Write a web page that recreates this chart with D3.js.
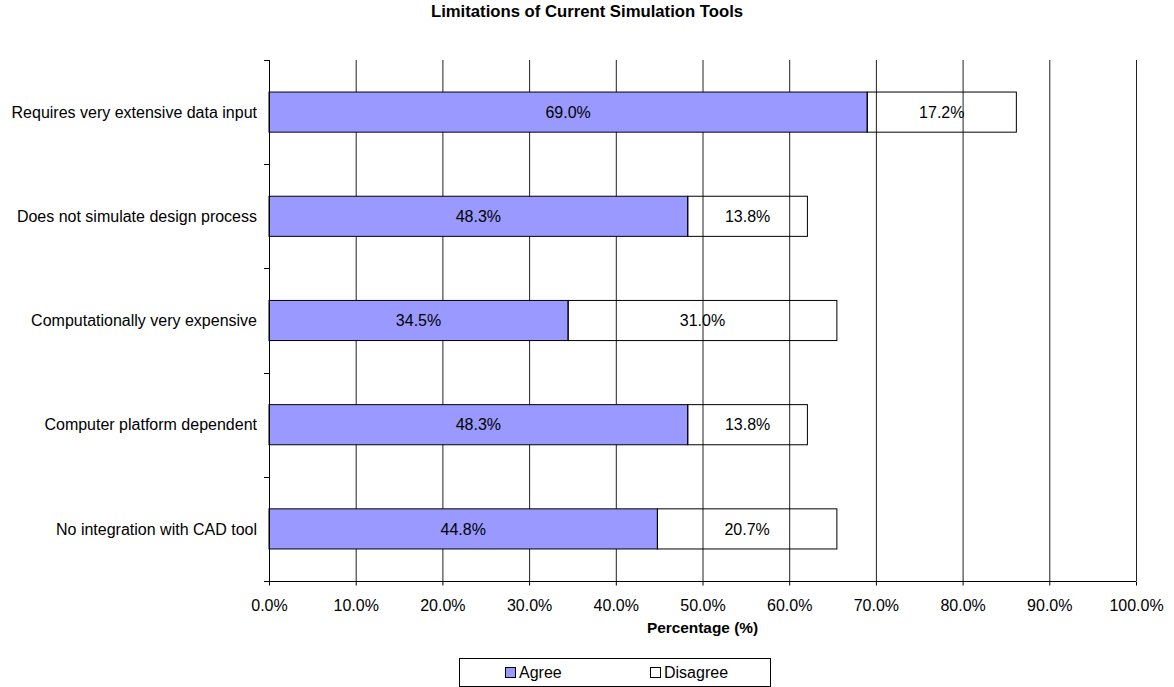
<!DOCTYPE html>
<html><head><meta charset="utf-8">
<script src="https://cdn.jsdelivr.net/npm/d3@7"></script>
<style>body{margin:0;background:#fff;}svg{display:block;font-family:"Liberation Sans",Arial,sans-serif;}</style>
</head><body>
<svg id="c" width="1174" height="687"></svg>
<script>
const categories = ["Requires very extensive data input","Does not simulate design process","Computationally very expensive","Computer platform dependent","No integration with CAD tool"];
const agree = [69.0, 48.3, 34.5, 48.3, 44.8];
const disagree = [17.2, 13.8, 31.0, 13.8, 20.7];
const seriesNames = ["Agree","Disagree"];
const xTicks = [0,10,20,30,40,50,60,70,80,90,100];

const FS = 16;
const svg = d3.select("#c");
const L = 269, R = 1136, T = 60, B = 581;
const x = d3.scaleLinear().domain([0,100]).range([L,R]);
const y = d3.scaleBand().domain(categories).range([T,B]).paddingInner(0.615).paddingOuter(0.3075);

// gridlines
svg.append("g").selectAll("line").data(xTicks.slice(1)).join("line")
  .attr("x1", d=>x(d)+0.5).attr("x2", d=>x(d)+0.5).attr("y1", T).attr("y2", B)
  .attr("stroke", "#222").attr("stroke-width", 1);

// bars
const rows = categories.map((c,i)=>({c, a:agree[i], d:disagree[i]}));
const g = svg.append("g");
g.selectAll("rect.a").data(rows).join("rect").attr("class","a")
  .attr("x", d=>x(0)).attr("y", d=>y(d.c)).attr("width", d=>x(d.a)-x(0)).attr("height", y.bandwidth())
  .attr("fill","#9999FF").attr("stroke","#000").attr("stroke-width",1);
g.selectAll("rect.d").data(rows).join("rect").attr("class","d")
  .attr("x", d=>x(d.a)).attr("y", d=>y(d.c)).attr("width", d=>x(d.a+d.d)-x(d.a)).attr("height", y.bandwidth())
  .attr("fill","none").attr("stroke","#000").attr("stroke-width",1);
g.selectAll("text.la").data(rows).join("text").attr("class","la")
  .attr("x", d=>(x(0)+x(d.a))/2).attr("y", d=>y(d.c)+y.bandwidth()/2).attr("dy","0.36em")
  .attr("text-anchor","middle").attr("font-size",FS).text(d=>d.a.toFixed(1)+"%");
g.selectAll("text.ld").data(rows).join("text").attr("class","ld")
  .attr("x", d=>(x(d.a)+x(d.a+d.d))/2).attr("y", d=>y(d.c)+y.bandwidth()/2).attr("dy","0.36em")
  .attr("text-anchor","middle").attr("font-size",FS).text(d=>d.d.toFixed(1)+"%");

// y axis
const yStep = y.step();
const yAx = svg.append("g");
yAx.append("line").attr("x1",L+0.5).attr("x2",L+0.5).attr("y1",T).attr("y2",B).attr("stroke","#000");
yAx.selectAll("line.t").data(d3.range(categories.length+1)).join("line").attr("class","t")
  .attr("x1",L-5).attr("x2",L).attr("y1",i=>Math.round(T+i*yStep)+0.5).attr("y2",i=>Math.round(T+i*yStep)+0.5).attr("stroke","#000");
yAx.selectAll("text").data(categories).join("text")
  .attr("x",L-12).attr("y",d=>y(d)+y.bandwidth()/2).attr("dy","0.36em").attr("text-anchor","end")
  .attr("font-size",FS).text(d=>d);

// x axis
const xAx = svg.append("g").attr("transform",`translate(0,${B+0.5})`)
  .call(d3.axisBottom(x).tickValues(xTicks).tickSize(4).tickFormat(d=>d.toFixed(1)+"%"));
xAx.attr("font-family",null).attr("font-size",null);
xAx.select(".domain").attr("d",`M${L-5},0H${R}`).attr("stroke","#000");
xAx.selectAll(".tick line").attr("stroke","#000");
xAx.selectAll(".tick text").attr("font-size",FS).attr("fill","#000").attr("dy",null).attr("y",29.5);

// titles
svg.append("text").attr("x",587).attr("y",17).attr("text-anchor","middle").attr("font-size",16.7).attr("font-weight","bold")
  .text("Limitations of Current Simulation Tools");
svg.append("text").attr("x",(L+R)/2).attr("y",633).attr("text-anchor","middle").attr("font-size",15.4).attr("font-weight","bold")
  .text("Percentage (%)");

// legend
const lg = svg.append("g");
lg.append("rect").attr("x",459.5).attr("y",658.5).attr("width",311).attr("height",28).attr("fill","#fff").attr("stroke","#000");
const legX = [505, 650];
const legFill = ["#9999FF","#fff"];
seriesNames.forEach((s,i)=>{
  lg.append("rect").attr("x",legX[i]+0.5).attr("y",667.5).attr("width",10).attr("height",10).attr("fill",legFill[i]).attr("stroke","#000");
  lg.append("text").attr("x",legX[i]+14).attr("y",678).attr("font-size",FS).text(s);
});
</script>
</body></html>
